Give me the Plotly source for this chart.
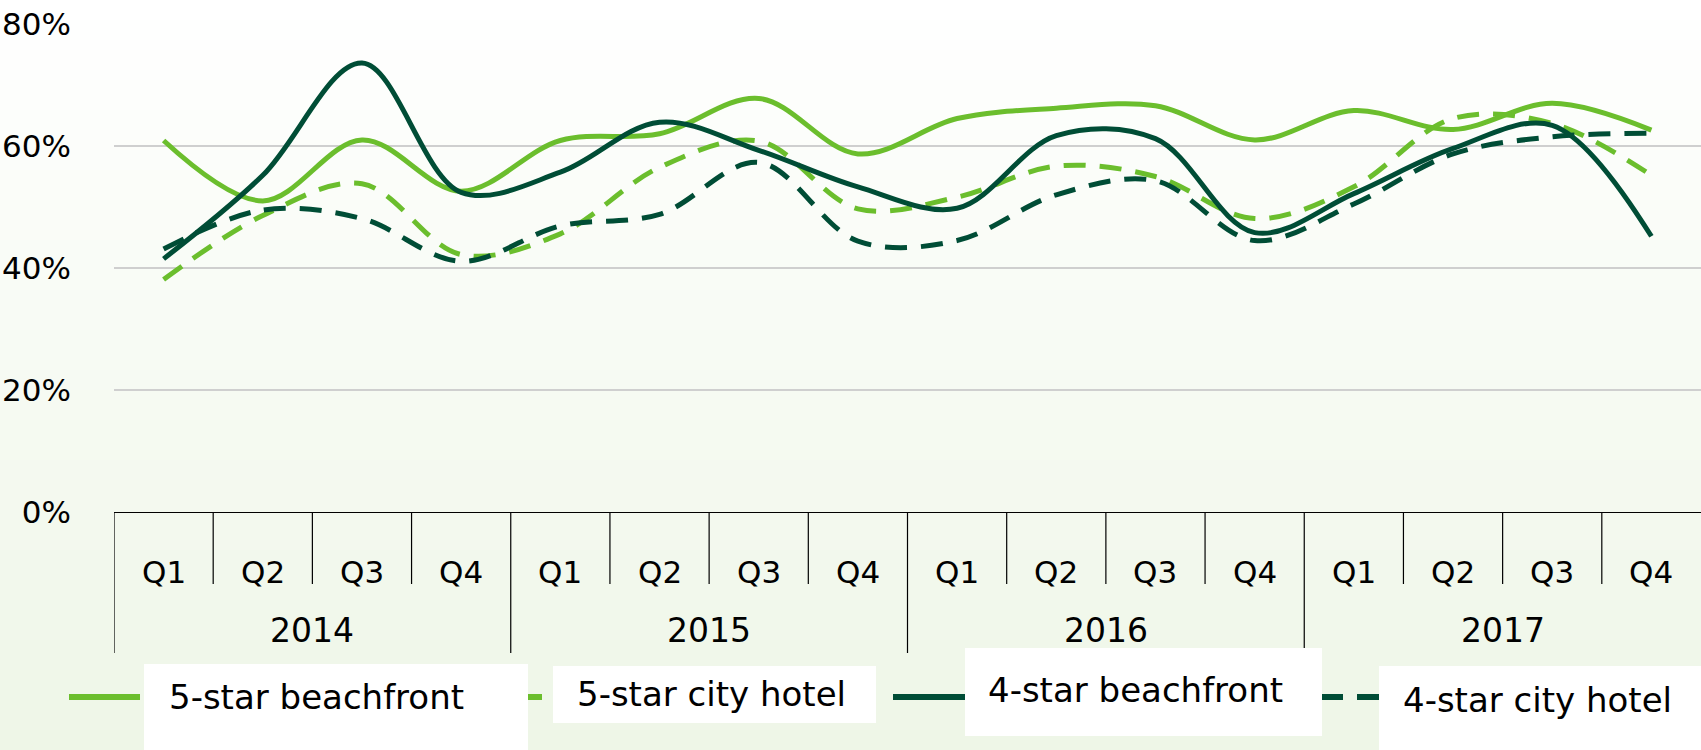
import plotly.graph_objects as go

# ---------------- data ----------------
years = ["2014", "2015", "2016", "2017"]
quarters = ["Q1", "Q2", "Q3", "Q4"]
categories = [f"{q} {y}" for y in years for q in quarters]

beach5 = [60.9, 51.0, 61.0, 52.6, 60.9, 62.0, 67.8, 58.7, 64.5, 66.2, 66.6, 61.0, 65.8, 62.7, 67.0, 62.6]
city5 = [38.1, 48.6, 53.8, 42.2, 45.6, 56.5, 60.8, 49.7, 51.6, 56.7, 55.0, 48.1, 53.3, 64.5, 63.7, 55.2]
beach4 = [41.5, 55.2, 73.6, 52.4, 55.7, 63.9, 59.3, 53.3, 49.8, 61.7, 61.2, 45.8, 52.2, 59.6, 63.4, 45.2]
city4 = [43.1, 49.5, 48.1, 41.1, 46.9, 48.8, 57.3, 44.4, 44.5, 52.0, 54.3, 44.5, 50.5, 58.7, 61.5, 62.1]

series_names = ["5-star beachfront", "5-star city hotel", "4-star beachfront", "4-star city hotel"]
y_ticks = [0, 20, 40, 60, 80]

# ---------------- style ----------------
LIGHT = "#6BBE2D"
DARK = "#004D36"
FONT = "'DejaVu Sans', sans-serif"
W, H = 1701, 750
X0, X1, Y_TOP, Y_ZERO = 114, 1701, 24, 512   # plot area in page pixels
L, R, T, B = X0, W - X1, Y_TOP, H - Y_ZERO
PW, PH = X1 - X0, Y_ZERO - Y_TOP


def px(x):
    return (x - X0) / PW


def py(y):
    return (Y_ZERO - y) / PH


styles = [
    dict(color=LIGHT, dash="solid"),
    dict(color=LIGHT, dash="22px,14px"),
    dict(color=DARK, dash="solid"),
    dict(color=DARK, dash="22px,14px"),
]

fig = go.Figure()
for name, vals, st in zip(series_names, [beach5, city5, beach4, city4], styles):
    fig.add_trace(go.Scatter(
        x=categories, y=vals, name=name, mode="lines",
        line=dict(color=st["color"], dash=st["dash"], width=5, shape="spline", smoothing=1.0),
        showlegend=False,
    ))

shapes = []
# background gradient (white top -> pale green bottom)
N = 75
top = (255, 255, 255)
bot = (238, 246, 231)
for k in range(N):
    y0 = k * H / N
    y1 = (k + 1) * H / N + 0.6
    t = (k + 0.5) / N
    c = tuple(round(top[j] + (bot[j] - top[j]) * t) for j in range(3))
    shapes.append(dict(type="rect", xref="paper", yref="paper",
                       x0=px(0), x1=px(W), y0=py(y1), y1=py(y0),
                       fillcolor=f"rgb{c}", line=dict(width=0), layer="below"))

# category separators
for i in range(len(categories)):
    y_end = 653 if i % 4 == 0 else 584
    shapes.append(dict(type="line", xref="x", yref="paper", x0=i - 0.5, x1=i - 0.5,
                       y0=0, y1=py(y_end), line=dict(color="black", width=1.2)))

# legend: sample lines, white boxes, texts
legend_samples = [(69, 140), (520, 553), (893, 966), (1321, 1380)]
legend_boxes = [(144, 528, 664, 750), (553, 876, 666, 723), (965, 1322, 648, 736), (1379, 1701, 666, 750)]
legend_text_x = [167, 575, 986, 1401]
legend_text_y = [697, 694, 690, 700]
for (sx0, sx1), st in zip(legend_samples, styles):
    shapes.append(dict(type="line", xref="paper", yref="paper", x0=px(sx0), x1=px(sx1),
                       y0=py(697), y1=py(697),
                       line=dict(color=st["color"], dash=st["dash"], width=6)))
for (bx0, bx1, by0, by1) in legend_boxes:
    shapes.append(dict(type="rect", xref="paper", yref="paper", x0=px(bx0), x1=px(bx1),
                       y0=py(by1), y1=py(by0), fillcolor="white", line=dict(width=0)))

annotations = []
for cat, q in zip(categories, quarters * len(years)):
    annotations.append(dict(x=cat, y=py(572), xref="x", yref="paper", text=q, showarrow=False,
                            font=dict(family=FONT, size=31, color="black"), xanchor="center", yanchor="middle"))
for j, yr in enumerate(years):
    annotations.append(dict(x=4 * j + 1.5, y=py(630), xref="x", yref="paper", text=yr, showarrow=False,
                            font=dict(family=FONT, size=33, color="black"), xanchor="center", yanchor="middle"))
for name, tx, ty in zip(series_names, legend_text_x, legend_text_y):
    annotations.append(dict(x=px(tx), y=py(ty), xref="paper", yref="paper", text=name, showarrow=False,
                            font=dict(family=FONT, size=34, color="black"), xanchor="left", yanchor="middle"))

fig.update_layout(
    width=W, height=H,
    margin=dict(l=L, r=R, t=T, b=B, pad=0, autoexpand=False),
    paper_bgcolor="white",
    plot_bgcolor="rgba(0,0,0,0)",
    showlegend=False,
    shapes=shapes,
    annotations=annotations,
    xaxis=dict(type="category", range=[-0.5, 15.5], showticklabels=False, ticks="", automargin=False,
               showgrid=False, zeroline=False, showline=True, linecolor="black", linewidth=1.2),
    yaxis=dict(range=[0, 80], tickvals=y_ticks, ticktext=[f"{v}%" for v in y_ticks],
               showgrid=True, gridcolor="#CFCFCF", gridwidth=1.5, zeroline=False, showline=False,
               ticks="", ticklabelstandoff=42, automargin=False,
               tickfont=dict(family=FONT, size=31, color="black")),
)

fig.write_html("out.html", config={"displayModeBar": False},
               post_script="document.body.style.margin='0';")
